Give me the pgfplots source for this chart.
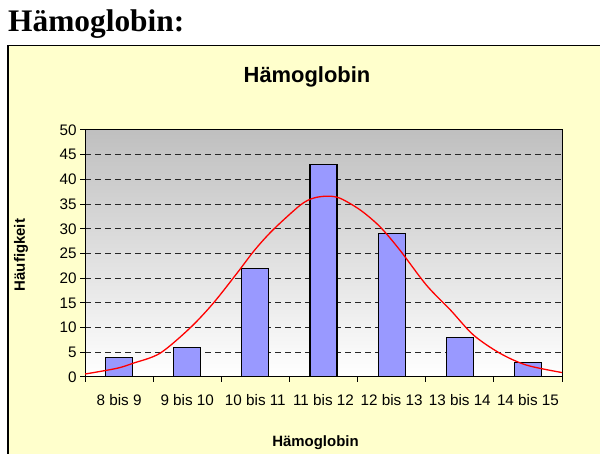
\documentclass[border=0pt]{standalone}
\usepackage{pgfplots}
\pgfplotsset{compat=1.18}
\usepackage{fontspec}
\setmainfont{Liberation Sans}
\newfontfamily\headfont{Liberation Serif}
\definecolor{bgyellow}{HTML}{FFFFCC}
\definecolor{barblue}{HTML}{9999FF}
\begin{document}
\begin{tikzpicture}[x=1bp,y=1bp]
\useasboundingbox (0,0) rectangle (600,454);
\fill[white] (0,0) rectangle (600,454);
\fill[bgyellow] (7,0) rectangle (600,409);
\draw[line width=1.5bp] (7.75,0) -- (7.75,408.25) -- (600,408.25);
\node[anchor=base west, inner sep=0] at (8,422.3) {\headfont\bfseries\fontsize{31.5}{36}\selectfont Hämoglobin:};
\node[anchor=base, inner sep=0] at (307,371.3) {\bfseries\fontsize{22}{24}\selectfont Hämoglobin};
\node[anchor=base, inner sep=0] at (315.5,7) {\bfseries\fontsize{15}{17}\selectfont Hämoglobin};
\node[anchor=center, rotate=90, inner sep=0] at (21,199) {\bfseries\fontsize{15}{17}\selectfont Häufigkeit};
\begin{axis}[
  at={(85bp,77bp)}, anchor=south west,
  scale only axis, width=477bp, height=247bp,
  xmin=-0.5, xmax=6.5, ymin=0, ymax=50,
  xtick={0,...,6},
  xticklabels={8 bis 9, 9 bis 10, 10 bis 11, 11 bis 12, 12 bis 13, 13 bis 14, 14 bis 15},
  minor xtick={-0.5,0.5,...,6.5},
  ytick={0,5,...,50},
  tick align=outside,
  major tick length=5bp, minor tick length=5bp,
  xtick pos=left, ytick pos=left,
  major x tick style={draw=none},
  minor x tick style={black, line width=1bp},
  major y tick style={black, line width=1bp},
  ymajorgrids,
  grid style={black!85, dash pattern=on 6bp off 4bp, line width=1bp},
  axis background/.style={top color=black!25, bottom color=white},
  axis line style={black, line width=1bp},
  tick label style={font=\fontsize{15.3}{17}\selectfont},
  /pgf/number format/assume math mode=true,
  xticklabel style={yshift=-9bp},
]
\addplot[ybar, bar width=27bp, fill=barblue, draw=black, line width=1.2bp]
  coordinates {(0,4) (1,6) (2,22) (3,43) (4,29) (5,8) (6,3)};
\addplot[red, line width=1.3bp, smooth, tension=0.5] coordinates {
 (-0.5,0.6) (-0.035,1.75) (0.21,2.8) (0.60,4.8) (1.04,9.9) (1.38,14.9)
 (1.73,21) (1.99,25.7) (2.26,29.8) (2.66,34.8) (2.85,36.2) (3.05,36.6)
 (3.24,36.2) (3.54,33.8) (3.83,30.4) (4.12,25.7) (4.51,18.6) (4.86,13.6)
 (5.20,8.5) (5.59,4.8) (5.98,2.4) (6.5,0.9)};
\end{axis}
\end{tikzpicture}
\end{document}
